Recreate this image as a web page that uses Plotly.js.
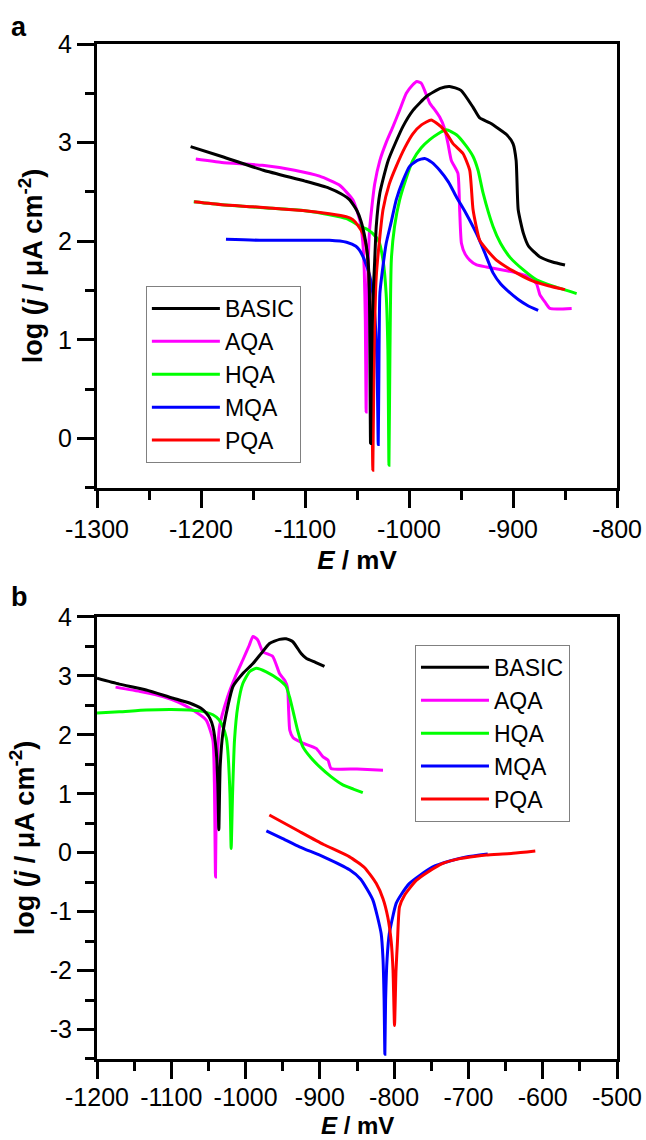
<!DOCTYPE html>
<html>
<head>
<meta charset="utf-8">
<script src="https://cdn.plot.ly/plotly-3.0.1.min.js"></script>
<style>html,body{margin:0;padding:0;background:#fff;}#chart{width:646px;height:1140px;}</style>
</head>
<body>
<div id="chart"></div>
<script>
// ---------- Series ----------
const seriesNames = ["BASIC", "AQA", "HQA", "MQA", "PQA"];
const seriesColors = ["#000000", "#ff00ff", "#00ff00", "#0000ff", "#ff0000"];

// ---------- Panel a data (E / mV, log j) ----------
const aBasicE = [-1210,-1180,-1140,-1100,-1077,-1065,-1057,-1050,-1046,-1043,-1041,-1039,-1038,-1037,-1036.3,-1035.5,-1034.5,-1033,-1031.5,-1028,-1020,-1006,-996,-983,-970,-961,-950,-938.5,-932,-922,-906,-900,-897,-895,-890,-885,-874,-862,-850];
const aBasicJ = [2.96,2.86,2.72,2.61,2.54,2.48,2.42,2.31,2.2,2.07,1.95,1.75,1.4,-0.05,0.6,1.1,1.45,1.8,2.15,2.49,2.82,3.16,3.33,3.47,3.55,3.57,3.53,3.36,3.25,3.2,3.08,2.99,2.82,2.32,2.08,1.95,1.84,1.79,1.76];

const aAqaE = [-1205,-1180,-1141,-1110,-1086,-1067,-1054,-1047,-1044.5,-1043,-1042,-1041.2,-1040.5,-1039.5,-1038,-1036,-1033,-1028,-1022,-1015.5,-1009,-1002.6,-997,-992.4,-988,-985,-980,-975,-970.5,-966,-962.5,-959.3,-953,-951.3,-949.6,-946,-941.6,-935,-925.6,-910,-896.6,-885,-877.4,-874.2,-869,-864.5,-843.6];
const aAqaJ = [2.835,2.80,2.77,2.72,2.66,2.57,2.42,2.2,2.0,1.7,1.2,0.27,1.2,1.7,2.1,2.32,2.58,2.82,3.0,3.16,3.33,3.5,3.58,3.62,3.6,3.53,3.40,3.33,3.26,3.15,2.99,2.82,2.69,2.32,1.98,1.87,1.81,1.76,1.74,1.71,1.68,1.64,1.57,1.46,1.38,1.32,1.32];

const aHqaE = [-1207,-1180,-1140,-1100,-1076.5,-1060,-1048,-1040,-1035,-1029,-1025,-1022,-1020.3,-1019.3,-1018.3,-1017,-1013.9,-1009,-1003,-996.3,-988,-980,-972,-964,-954.4,-946,-938.4,-933.6,-928.8,-919.2,-912,-903.1,-890,-877.4,-860,-838.8];
const aHqaJ = [2.40,2.37,2.34,2.31,2.27,2.23,2.16,2.12,2.08,2.0,1.81,1.47,0.9,-0.27,0.9,1.81,2.15,2.42,2.63,2.82,2.95,3.03,3.09,3.13,3.08,2.98,2.86,2.72,2.49,2.15,1.98,1.84,1.71,1.61,1.54,1.47];

const aMqaE = [-1176,-1140,-1100,-1076.5,-1060,-1051,-1047.6,-1042.8,-1038,-1034.8,-1032,-1030.5,-1029.6,-1029,-1028,-1025,-1021.9,-1017,-1012.3,-1006,-999.4,-992,-985,-978,-970.5,-962,-954.4,-945,-935.2,-927,-919.2,-912,-906.3,-895,-886,-875.8];
const aMqaJ = [2.02,2.01,2.01,2.01,1.99,1.95,1.91,1.81,1.66,1.47,1.1,0.6,-0.06,0.6,1.47,1.75,1.98,2.2,2.42,2.61,2.76,2.82,2.84,2.8,2.72,2.6,2.45,2.28,2.08,1.88,1.68,1.57,1.51,1.41,1.35,1.30];

const aPqaE = [-1206.6,-1180,-1150,-1124.7,-1100,-1076.5,-1060.4,-1054,-1049,-1044.4,-1041.5,-1039.6,-1037.5,-1036,-1034.8,-1033.5,-1031.5,-1028,-1025,-1019,-1012.3,-1004,-996.3,-988,-978.6,-969,-963,-957.7,-948.1,-941.6,-938.4,-932,-924,-916,-900,-883.8,-866,-850];
const aPqaJ = [2.40,2.37,2.35,2.33,2.31,2.28,2.25,2.22,2.16,2.08,1.97,1.81,1.4,0.8,-0.32,0.9,1.64,2.05,2.32,2.58,2.76,2.95,3.09,3.18,3.23,3.16,3.08,2.99,2.89,2.72,2.32,2.01,1.9,1.81,1.7,1.61,1.55,1.51];

// ---------- Panel b data (E / mV, log j) ----------
const bBasicE = [-1200,-1170,-1133.8,-1100,-1075.5,-1060,-1053,-1048,-1044,-1039.6,-1037.4,-1036,-1034.2,-1030.6,-1024,-1017,-1003.7,-990,-979,-967.8,-954.3,-945.4,-936.4,-925.2,-918.4,-906,-893.8];
const bBasicJ = [2.96,2.86,2.76,2.63,2.54,2.45,2.37,2.28,2.14,1.74,1.18,0.39,1.46,2.03,2.48,2.82,3.04,3.21,3.38,3.55,3.62,3.63,3.58,3.38,3.30,3.23,3.16];

const bAqaE = [-1175,-1140,-1111.4,-1090,-1071,-1053,-1044,-1042,-1040.5,-1039,-1035,-1024,-1014,-1003.7,-995,-990,-983.6,-976.8,-963.4,-954.3,-947,-943.5,-942,-940.5,-936,-923,-905,-896,-889,-885,-850,-815];
const bAqaJ = [2.81,2.73,2.65,2.55,2.42,2.25,1.91,1.2,-0.41,1.2,2.14,2.65,2.98,3.27,3.52,3.67,3.61,3.41,3.33,3.04,2.92,2.8,2.4,2.08,1.95,1.86,1.77,1.63,1.57,1.43,1.42,1.40];

const bHqaE = [-1200,-1170,-1133.8,-1100,-1075.5,-1055,-1044,-1036,-1030.6,-1026,-1024,-1021,-1019.4,-1017.5,-1014.9,-1010.5,-1003.7,-994.7,-985.7,-972.2,-954.3,-945.4,-941,-936.4,-930,-923,-912,-900.5,-885,-869.1,-855,-842.2];
const bHqaJ = [2.37,2.39,2.42,2.43,2.42,2.39,2.34,2.26,2.14,1.95,1.74,1.0,0.07,1.0,1.91,2.48,2.87,3.07,3.13,3.07,2.93,2.82,2.65,2.42,2.08,1.80,1.61,1.46,1.29,1.15,1.08,1.02];

const bMqaE = [-972,-950,-927.4,-895,-860,-845,-828.7,-817.5,-815,-813.5,-812.5,-811.5,-809.5,-806.5,-797.3,-790,-779.3,-765,-748,-725,-703,-674];
const bMqaJ = [0.37,0.24,0.10,-0.07,-0.29,-0.45,-0.80,-1.37,-1.8,-2.5,-3.42,-2.5,-1.8,-1.37,-0.86,-0.7,-0.52,-0.38,-0.24,-0.14,-0.07,-0.02];

const bPqaE = [-968,-927.4,-895,-860,-840,-824.2,-815,-808.6,-804,-801.5,-799.5,-797.5,-795.5,-792.8,-786,-770.3,-755,-734.5,-711.5,-690,-676,-640,-610];
const bPqaJ = [0.64,0.36,0.14,-0.07,-0.25,-0.52,-0.78,-1.09,-1.5,-2.0,-2.93,-2.0,-1.5,-0.92,-0.72,-0.47,-0.33,-0.18,-0.1,-0.06,-0.04,-0.01,0.03];

// ---------- Tick labels ----------
const xTicksA = [-1300,-1200,-1100,-1000,-900,-800];
const xTickTextA = ["-1300","-1200","-1100","-1000","-900","-800"];
const xTicksB = [-1200,-1100,-1000,-900,-800,-700,-600,-500];
const xTickTextB = ["-1200","-1100","-1000","-900","-800","-700","-600","-500"];
const yTicksA = [0,1,2,3,4];
const yTickTextA = ["0","1","2","3","4"];
const yTicksB = [-3,-2,-1,0,1,2,3,4];
const yTickTextB = ["-3","-2","-1","0","1","2","3","4"];

const FONT = "Liberation Sans, Arial, Helvetica, sans-serif";

const panelA = [[aBasicE,aBasicJ],[aAqaE,aAqaJ],[aHqaE,aHqaJ],[aMqaE,aMqaJ],[aPqaE,aPqaJ]];
const panelB = [[bBasicE,bBasicJ],[bAqaE,bAqaJ],[bHqaE,bHqaJ],[bMqaE,bMqaJ],[bPqaE,bPqaJ]];
const drawOrder = [1, 2, 3, 4, 0]; // BASIC drawn on top

const traces = [];
drawOrder.forEach(i => {
  traces.push({x: panelA[i][0], y: panelA[i][1], type: 'scatter', mode: 'lines', name: seriesNames[i],
    line: {color: seriesColors[i], width: 3, shape: 'spline', smoothing: 0.5}, xaxis: 'x', yaxis: 'y', legend: 'legend', legendrank: i + 1});
});
drawOrder.forEach(i => {
  traces.push({x: panelB[i][0], y: panelB[i][1], type: 'scatter', mode: 'lines', name: seriesNames[i],
    line: {color: seriesColors[i], width: 3, shape: 'spline', smoothing: 0.5}, xaxis: 'x2', yaxis: 'y2', legend: 'legend2', legendrank: i + 1});
});

const minorX = {ticks: 'outside', ticklen: 9, tickwidth: 3, tickcolor: '#000', dtick: 50, showgrid: false};
const minorY = {ticks: 'outside', ticklen: 9, tickwidth: 3, tickcolor: '#000', dtick: 0.5, tick0: 0, showgrid: false};

function axisBase(extra) {
  return Object.assign({
    showline: true, linewidth: 3, linecolor: '#000', mirror: true,
    ticks: 'outside', ticklen: 17, tickwidth: 3, tickcolor: '#000',
    showgrid: false, zeroline: false, tickmode: 'array',
    tickfont: {family: FONT, size: 25, color: '#000'}
  }, extra);
}
const xTitleText = '<b><i>E</i> / mV</b>';
const xTitleA = {text: xTitleText, font: {family: FONT, size: 26, color: '#000'}, standoff: 9};
const yTitle = {text: '<b>log (<i>j</i> / μA cm<sup>-2</sup>)</b>', font: {family: FONT, size: 27, color: '#000'}, standoff: 8};

const legendBase = {
  font: {family: FONT, size: 23, color: '#000'},
  bordercolor: '#808080', borderwidth: 1, bgcolor: 'rgba(255,255,255,0)',
  xanchor: 'left', yanchor: 'top', itemwidth: 68, tracegroupgap: 0
};

const layout = {
  width: 646, height: 1140,
  margin: {l: 97, r: 29, t: 44, b: 81},
  paper_bgcolor: '#fff', plot_bgcolor: '#fff',
  showlegend: true,
  xaxis: axisBase({domain: [0, 1], range: [-1300, -800], tickvals: xTicksA, ticktext: xTickTextA, minor: Object.assign({tick0: -1300}, minorX), anchor: 'y', title: xTitleA}),
  yaxis: axisBase({domain: [0.5626, 1], range: [-0.5, 4], tickvals: yTicksA, ticktext: yTickTextA, minor: minorY, anchor: 'x', title: yTitle}),
  xaxis2: axisBase({domain: [0, 1], range: [-1200, -500], tickvals: xTicksB, ticktext: xTickTextB, minor: Object.assign({tick0: -1200}, minorX), anchor: 'y2', ticklabelstandoff: -3}),
  yaxis2: axisBase({domain: [0, 0.4355], range: [-3.5, 4], tickvals: yTicksB, ticktext: yTickTextB, minor: minorY, anchor: 'x2', title: yTitle}),
  legend: Object.assign({x: 0.094, y: 0.7616}, legendBase),
  legend2: Object.assign({x: 0.6115, y: 0.408}, legendBase),
  annotations: [
    {text: '<b>a</b>', xref: 'paper', yref: 'paper', x: -0.17, y: 1.017, xanchor: 'left', yanchor: 'middle', showarrow: false, font: {family: FONT, size: 27, color: '#000'}},
    {text: '<b>b</b>', xref: 'paper', yref: 'paper', x: -0.17, y: 0.455, xanchor: 'left', yanchor: 'middle', showarrow: false, font: {family: FONT, size: 27, color: '#000'}},
    {text: xTitleText, xref: 'paper', yref: 'paper', x: 0.5, y: -0.0795, xanchor: 'center', yanchor: 'bottom', borderpad: 0, showarrow: false, font: {family: FONT, size: 24, color: '#000'}}
  ]
};

Plotly.newPlot('chart', traces, layout, {staticPlot: true, displayModeBar: false});
</script>
</body>
</html>
